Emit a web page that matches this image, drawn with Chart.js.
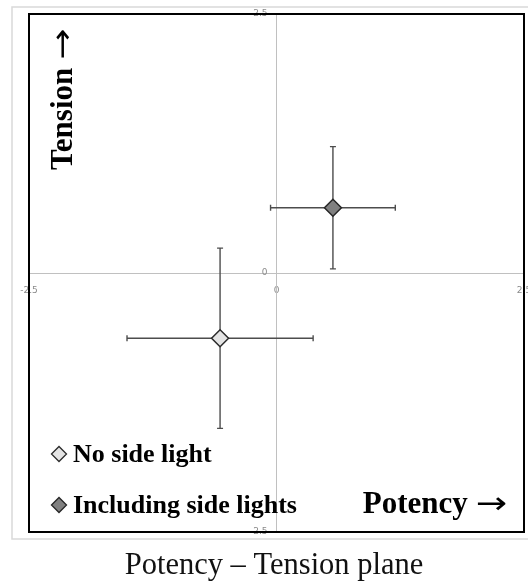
<!DOCTYPE html>
<html>
<head>
<meta charset="utf-8">
<script src="https://cdn.jsdelivr.net/npm/chart.js@4/dist/chart.umd.min.js"></script>
<style>
  html, body { margin: 0; padding: 0; background: #fff; overflow: hidden; }
  canvas { display: block; }
</style>
</head>
<body>
<canvas id="plane" width="534" height="581"></canvas>
<script>
// Mean position of each lighting condition on the Potency–Tension plane
const seriesLabels = ['No side light', 'Including side lights'];
const potency = [-0.57, 0.57];
const tension = [-0.63, 0.63];
// Spread shown as cross-shaped error bars
const potencyErr = [0.94, 0.63];
const tensionErr = [0.87, 0.59];
// Axis ticks
const tickValues = [-2.5, 0, 2.5];

const markerFill = ['#e4e4e4', '#808080'];
const markerEdge = ['#2b2b2b', '#262626'];
const serif = '"Liberation Serif", "Times New Roman", serif';
const arrowFont = '30px "DejaVu Sans", sans-serif';
const arrowStretch = 1.25;

const datasets = seriesLabels.map((label, i) => ({
  label,
  data: [{ x: potency[i], y: tension[i], xErr: potencyErr[i], yErr: tensionErr[i] }],
  pointStyle: 'rectRot',
  pointRadius: 8.5,
  pointHoverRadius: 8.5,
  pointBackgroundColor: markerFill[i],
  pointBorderColor: markerEdge[i],
  pointBorderWidth: 1.5,
  showLine: false
}));

// Horizontal and vertical error bars, drawn beneath the markers
const errorBars = {
  id: 'errorBars',
  beforeDatasetsDraw(chart) {
    const { ctx, scales: { x, y } } = chart;
    const cap = 3;
    ctx.save();
    ctx.strokeStyle = '#4d4d4d';
    ctx.lineWidth = 1.4;
    chart.data.datasets.forEach(ds => {
      ds.data.forEach(p => {
        const px = x.getPixelForValue(p.x);
        const py = y.getPixelForValue(p.y);
        const x0 = x.getPixelForValue(p.x - p.xErr);
        const x1 = x.getPixelForValue(p.x + p.xErr);
        const y0 = y.getPixelForValue(p.y + p.yErr);
        const y1 = y.getPixelForValue(p.y - p.yErr);
        ctx.beginPath();
        ctx.moveTo(x0, py); ctx.lineTo(x1, py);
        ctx.moveTo(x0, py - cap); ctx.lineTo(x0, py + cap);
        ctx.moveTo(x1, py - cap); ctx.lineTo(x1, py + cap);
        ctx.moveTo(px, y0); ctx.lineTo(px, y1);
        ctx.moveTo(px - cap, y0); ctx.lineTo(px + cap, y0);
        ctx.moveTo(px - cap, y1); ctx.lineTo(px + cap, y1);
        ctx.stroke();
      });
    });
    ctx.restore();
  }
};

// Bold axis name followed by a long arrow, drawn at (x, baseline)
function axisName(ctx, word, x, y) {
  ctx.font = 'bold 31px ' + serif;
  ctx.textAlign = 'left';
  ctx.fillText(word + ' ', x, y);
  const w = ctx.measureText(word + ' ').width;
  ctx.font = arrowFont;
  ctx.save();
  ctx.translate(x + w, y);
  ctx.scale(arrowStretch, 1);
  ctx.fillText('\u2192', 0, 0);
  ctx.restore();
}
function axisNameWidth(ctx, word) {
  ctx.font = 'bold 31px ' + serif;
  const w = ctx.measureText(word + ' ').width;
  ctx.font = arrowFont;
  return w + ctx.measureText('\u2192').width * arrowStretch;
}

// Frames, axis names, legend and caption
const decorations = {
  id: 'decorations',
  beforeDraw(chart) {
    const { ctx } = chart;
    ctx.save();
    ctx.fillStyle = '#ffffff';
    ctx.fillRect(0, 0, chart.width, chart.height);
    ctx.strokeStyle = '#d9d9d9';
    ctx.lineWidth = 1.5;
    ctx.strokeRect(12, 7, 540, 532);
    ctx.restore();
  },
  afterDraw(chart) {
    const { ctx, chartArea: a } = chart;
    ctx.save();
    // plot box
    ctx.strokeStyle = '#000000';
    ctx.lineWidth = 2;
    ctx.strokeRect(a.left, a.top, a.right - a.left, a.bottom - a.top);

    ctx.fillStyle = '#000000';
    ctx.textBaseline = 'alphabetic';
    // vertical axis name
    ctx.save();
    ctx.translate(72, 170);
    ctx.rotate(-Math.PI / 2);
    axisName(ctx, 'Tension', 0, 0);
    ctx.restore();
    // horizontal axis name
    axisName(ctx, 'Potency', 507 - axisNameWidth(ctx, 'Potency'), 513);

    // legend
    const rows = [462, 513];
    ctx.font = 'bold 26px ' + serif;
    ctx.textAlign = 'left';
    chart.data.datasets.forEach((ds, i) => {
      const cy = rows[i] - 8;
      ctx.fillStyle = ds.pointBackgroundColor;
      ctx.strokeStyle = ds.pointBorderColor;
      ctx.lineWidth = 1.3;
      Chart.helpers.drawPoint(ctx, { pointStyle: 'rectRot', radius: 7.5, rotation: 0, borderWidth: 1.3 }, 59, cy);
      ctx.fillStyle = '#000000';
      ctx.fillText(ds.label, 73, rows[i]);
    });

    // caption
    ctx.font = '30.5px ' + serif;
    ctx.textAlign = 'center';
    ctx.fillStyle = '#111111';
    ctx.fillText('Potency \u2013 Tension plane', 274, 574);
    ctx.restore();
  }
};

const tickFont = { family: '"DejaVu Sans", sans-serif', size: 9 };

new Chart(document.getElementById('plane'), {
  type: 'scatter',
  data: { datasets },
  options: {
    responsive: false,
    devicePixelRatio: 1,
    animation: false,
    layout: { padding: { left: 29, top: 14, right: 2, bottom: 49 } },
    plugins: {
      legend: { display: false },
      tooltip: { enabled: false }
    },
    scales: {
      x: {
        type: 'linear',
        min: -2.5,
        max: 2.5,
        position: { y: 0 },
        grid: { display: false },
        border: { display: true, color: '#c0c0c0', width: 1 },
        ticks: {
          padding: 4,
          color: '#8a8a8a',
          font: tickFont,
          maxRotation: 0,
          autoSkip: false,
          callback: v => String(v)
        },
        afterBuildTicks: s => { s.ticks = tickValues.map(v => ({ value: v })); },
        afterFit: s => { s.height = 0; s.paddingLeft = 0; s.paddingRight = 0; }
      },
      y: {
        type: 'linear',
        min: -2.5,
        max: 2.5,
        position: { x: 0 },
        grid: { display: false },
        border: { display: true, color: '#c0c0c0', width: 1 },
        ticks: {
          color: '#8a8a8a',
          font: tickFont,
          autoSkip: false,
          // trailing spaces keep the labels clear of the vertical axis line
          callback: v => String(v) + '\u2002\u2002'
        },
        afterBuildTicks: s => { s.ticks = tickValues.map(v => ({ value: v })); },
        afterFit: s => { s.width = 0; s.paddingTop = 0; s.paddingBottom = 0; }
      }
    }
  },
  plugins: [errorBars, decorations]
});
</script>
</body>
</html>
